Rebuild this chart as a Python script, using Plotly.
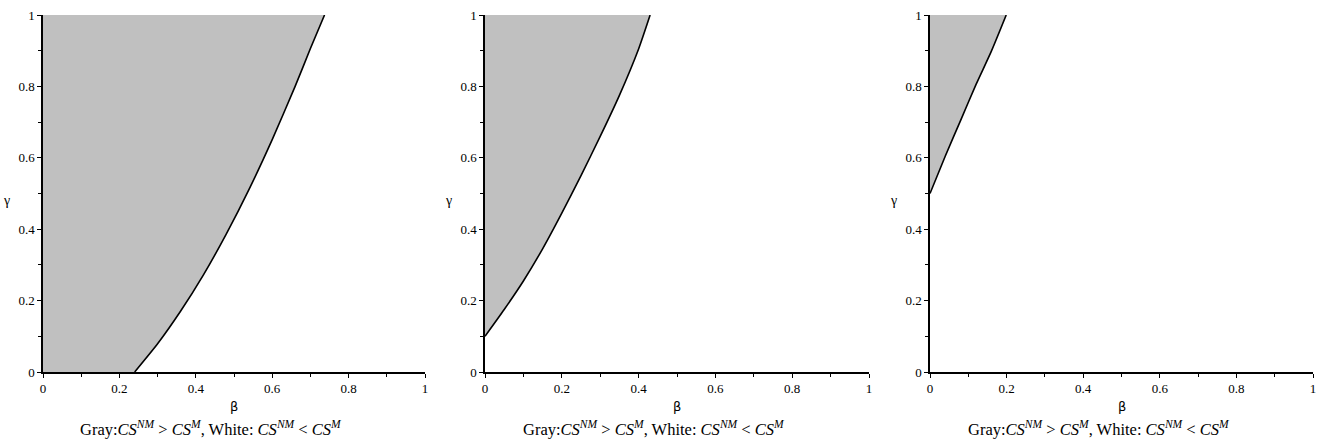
import plotly.graph_objects as go

# Boundary curves (beta, gamma)
beta_1 = [0.24, 0.30, 0.36, 0.42, 0.48, 0.54, 0.60, 0.66, 0.70, 0.737]
gamma_1 = [0.0, 0.079, 0.170, 0.272, 0.387, 0.513, 0.651, 0.800, 0.906, 1.0]

beta_2 = [0.0, 0.05, 0.10, 0.15, 0.20, 0.25, 0.30, 0.35, 0.40, 0.43]
gamma_2 = [0.10, 0.175, 0.255, 0.345, 0.445, 0.55, 0.66, 0.775, 0.905, 1.0]

beta_3 = [0.0, 0.04, 0.08, 0.12, 0.16, 0.199]
gamma_3 = [0.5, 0.605, 0.705, 0.805, 0.898, 1.0]

tick_vals = [0, 0.2, 0.4, 0.6, 0.8, 1]
tick_text = ["0", "0.2", "0.4", "0.6", "0.8", "1"]
caption = ("Gray:<i>CS</i><sup><i>NM</i></sup> &gt; <i>CS</i><sup><i>M</i></sup>, "
           "White: <i>CS</i><sup><i>NM</i></sup> &lt; <i>CS</i><sup><i>M</i></sup>")

W, H = 1323, 444
panels = [(43, 425, beta_1, gamma_1), (485, 869, beta_2, gamma_2), (930, 1313, beta_3, gamma_3)]
y_top, y_bot = 15, 372

FONT = "Liberation Serif"
GRAY = "#c0c0c0"

fig = go.Figure()
annotations = []
for i, (px0, px1, bx, gy) in enumerate(panels):
    n = "" if i == 0 else str(i + 1)
    xa, ya = "x" + n, "y" + n
    # gray region: left of / above the boundary curve
    if bx[0] > 0:
        poly_x = [0.0, 0.0] + list(bx) + [0.0]
        poly_y = [1.0, 0.0] + list(gy) + [1.0]
    else:
        poly_x = [0.0] + list(bx) + [0.0]
        poly_y = [1.0] + list(gy) + [1.0]
    fig.add_trace(go.Scatter(x=poly_x, y=poly_y, fill="toself", fillcolor=GRAY,
                             mode="none", hoverinfo="skip", showlegend=False,
                             xaxis=xa, yaxis=ya))
    fig.add_trace(go.Scatter(x=bx, y=gy, mode="lines",
                             line=dict(color="black", width=1.6, shape="spline", smoothing=0.6),
                             showlegend=False, xaxis=xa, yaxis=ya))
    axis_common = dict(range=[0, 1], tickvals=tick_vals, ticktext=tick_text,
                       ticks="outside", ticklen=4, tickcolor="black", tickwidth=1,
                       showline=True, linecolor="black", linewidth=1.5,
                       showgrid=False, zeroline=False, automargin=False,
                       tickfont=dict(family=FONT, size=13, color="black"),
                       minor=dict(tickvals=[0.1, 0.3, 0.5, 0.7, 0.9], ticks="outside",
                                  ticklen=3, tickcolor="black", showgrid=False))
    fig.update_layout(**{
        "xaxis" + n: dict(domain=[px0 / W, px1 / W], anchor=ya, **axis_common),
        "yaxis" + n: dict(domain=[1 - y_bot / H, 1 - y_top / H], anchor=xa, **axis_common),
    })
    cx = (px0 + px1) / 2
    common = dict(xref="paper", yref="paper", showarrow=False, xanchor="center", yanchor="middle")
    annotations.append(dict(text="β", x=cx / W, y=1 - 406 / H,
                            font=dict(family="DejaVu Sans", size=13, color="black"), **common))
    annotations.append(dict(text=caption, x=(cx - 23) / W, y=1 - 428 / H,
                            font=dict(family=FONT, size=16.5, color="black"), **common))
    annotations.append(dict(text="γ", x=(px0 - 37) / W, y=1 - 200 / H,
                            font=dict(family=FONT, size=14, color="black"), **common))

fig.update_layout(width=W, height=H, margin=dict(l=0, r=0, t=0, b=0, autoexpand=False),
                  paper_bgcolor="white", plot_bgcolor="white",
                  annotations=annotations, showlegend=False)

fig.write_html("out.html", config={"displayModeBar": False},
               post_script="document.body.style.margin='0';")
